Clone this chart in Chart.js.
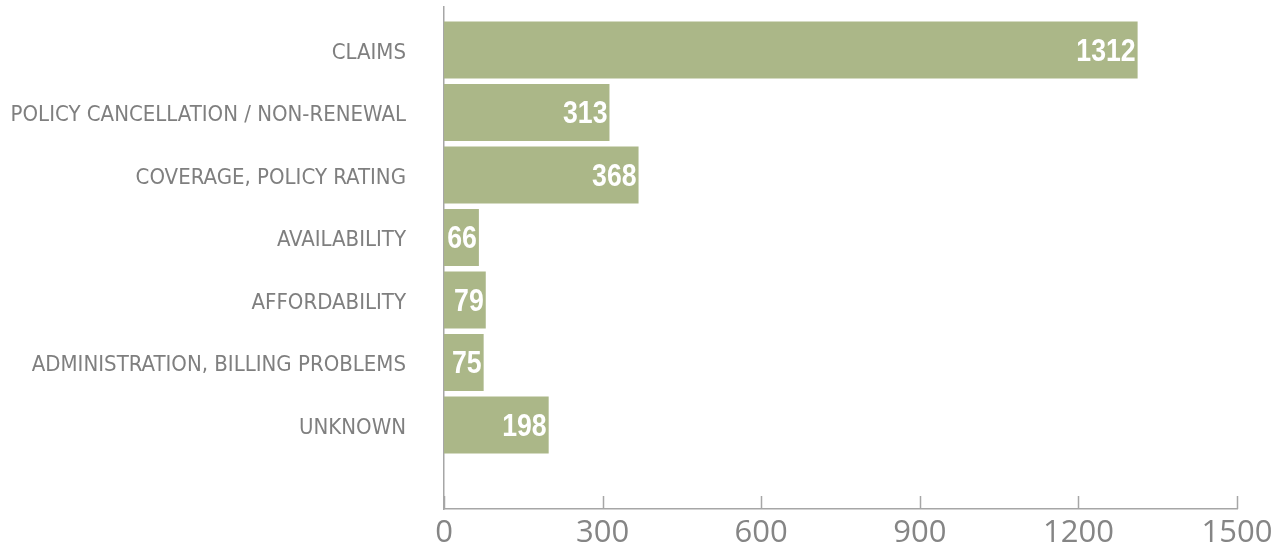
<!DOCTYPE html>
<html>
<head>
<meta charset="utf-8">
<script src="https://cdn.jsdelivr.net/npm/chart.js@4.4.1/dist/chart.umd.min.js"></script>
<style>
  html, body { margin: 0; padding: 0; background: #fff; }
  #wrap { width: 1284px; height: 550px; }
</style>
</head>
<body>
<div id="wrap"><canvas id="bar-chart"></canvas></div>
<script>
var categories = ['CLAIMS', 'POLICY CANCELLATION / NON-RENEWAL', 'COVERAGE, POLICY RATING',
  'AVAILABILITY', 'AFFORDABILITY', 'ADMINISTRATION, BILLING PROBLEMS', 'UNKNOWN']
var complaints = [1312, 313, 368, 66, 79, 75, 198]
var xTicks = [0, 300, 600, 900, 1200, 1500]

var condensed = '"DejaVu Sans Condensed", sans-serif'
var axisColor = '#a6a6a6'

// white numbers at the end of each bar (squeezed Liberation Sans bold ~ condensed look)
var valueLabels = {
    id: 'valueLabels',
    afterDatasetsDraw: function (chart) {
        var ctx = chart.ctx
        var meta = chart.getDatasetMeta(0)
        meta.data.forEach(function (bar, i) {
            ctx.save()
            ctx.translate(bar.x - 2, bar.y + 2)
            ctx.scale(0.86, 1)
            ctx.fillStyle = '#fff'
            ctx.font = 'bold 31px "Liberation Sans", Arial, sans-serif'
            ctx.textAlign = 'right'
            ctx.textBaseline = 'middle'
            ctx.fillText(complaints[i], 0, 0)
            ctx.restore()
        })
    }
}

// small tick marks pointing up from the x axis
var innerTicks = {
    id: 'innerTicks',
    afterDraw: function (chart) {
        var ctx = chart.ctx
        var xs = chart.scales.x
        var bottom = chart.chartArea.bottom
        ctx.save()
        ctx.strokeStyle = axisColor
        ctx.lineWidth = 1.5
        xs.ticks.forEach(function (t) {
            var px = Math.round(xs.getPixelForValue(t.value)) + 0.5
            ctx.beginPath()
            ctx.moveTo(px, bottom)
            ctx.lineTo(px, bottom - 13)
            ctx.stroke()
        })
        ctx.restore()
    }
}

var barChart = new Chart(document.getElementById('bar-chart'), {
    type: 'bar',
    data: {
        datasets: [{
            label: 'Complaints',
            data: complaints.map(function (v, i) { return { x: v, y: i } }),
            backgroundColor: '#abb788',
            barPercentage: 0.91,
            categoryPercentage: 1
        }]
    },
    options: {
        indexAxis: 'y',
        responsive: true,
        maintainAspectRatio: false,
        animation: false,
        layout: { padding: { top: 7, right: 47, left: 0, bottom: 0 } },
        plugins: {
            legend: { display: false },
            tooltip: { enabled: false }
        },
        scales: {
            x: {
                type: 'linear',
                min: 0,
                max: 1500,
                afterBuildTicks: function (scale) {
                    scale.ticks = xTicks.map(function (v) { return { value: v } })
                },
                grid: { display: false, drawTicks: false },
                border: { display: true, color: axisColor, width: 1.5 },
                ticks: {
                    padding: 6,
                    color: '#858585',
                    font: { family: '"Open Sans", sans-serif', size: 31 },
                    callback: function (v) { return String(v) }
                },
                afterFit: function (scale) {
                    scale.height = 41
                    scale.paddingLeft = 0
                    scale.paddingRight = 0
                }
            },
            y: {
                type: 'linear',
                reverse: true,
                offset: false,
                min: -0.688,
                max: 7.344,
                afterBuildTicks: function (scale) {
                    scale.ticks = categories.map(function (c, i) { return { value: i } })
                },
                grid: { display: false, drawTicks: false, offset: false },
                border: { display: true, color: axisColor, width: 1.5 },
                ticks: {
                    padding: 38,
                    labelOffset: 3,
                    color: '#7f7f7f',
                    font: { family: condensed, size: 22 },
                    callback: function (v) { return categories[v] }
                },
                afterFit: function (scale) {
                    scale.width = 444
                    scale.paddingTop = 0
                    scale.paddingBottom = 0
                }
            }
        }
    },
    plugins: [valueLabels, innerTicks]
});
</script>
</body>
</html>
